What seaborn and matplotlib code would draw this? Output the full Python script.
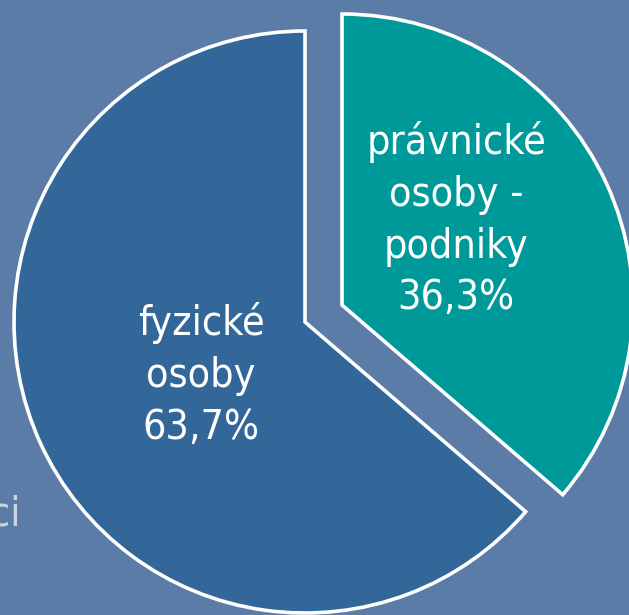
import matplotlib
matplotlib.use("Agg")
import matplotlib.pyplot as plt
import seaborn as sns

# data
categories = ["fyzické\nosoby", "právnické\nosoby -\npodniky"]
shares = [63.7, 36.3]
colours = ["#336699", "#009999"]
explode = [0, 0.14]

sns.set_style("white")
plt.rcParams['font.family'] = ['DejaVu Sans']
plt.rcParams['font.stretch'] = 'condensed'

bg = "#5B7CA6"
fig = plt.figure(figsize=(6.29, 6.15), dpi=100, facecolor=bg)
ax = fig.add_axes([0, 0, 1, 1])
ax.set_facecolor(bg)

wedges, _ = ax.pie(shares, colors=colours, explode=explode, startangle=90,
                   counterclock=True,
                   wedgeprops=dict(edgecolor="white", linewidth=2.6))

# label text inside each slice (offset from the slice's own centre)
label_offsets = [(-0.357, -0.182), (0.392, 0.293)]
for w, cat, share, (dx, dy) in zip(wedges, categories, shares, label_offsets):
    cx, cy = w.center
    txt = f"{cat}\n{share:.1f}%".replace(".", ",")
    ax.text(cx + dx, cy + dy, txt, ha="center", va="center", color="white",
            fontsize=29.5, fontstretch="condensed", linespacing=1.38)

# pixel mapping: pie centre at (305, 322) px, radius 291 px
scale = 291
ax.set_xlim((0 - 305) / scale, (629 - 305) / scale)
ax.set_ylim((322 - 615) / scale, (322 - 0) / scale)
ax.set_aspect("equal")
ax.axis("off")

# leftover slide text at the left edge
fig.text(-10 / 629, 1 - 525 / 615, "ci", color="#CBD4E3", fontsize=29.5,
         fontstretch="condensed", ha="left", va="baseline")

fig.savefig("out.png", dpi=100, facecolor=bg)
